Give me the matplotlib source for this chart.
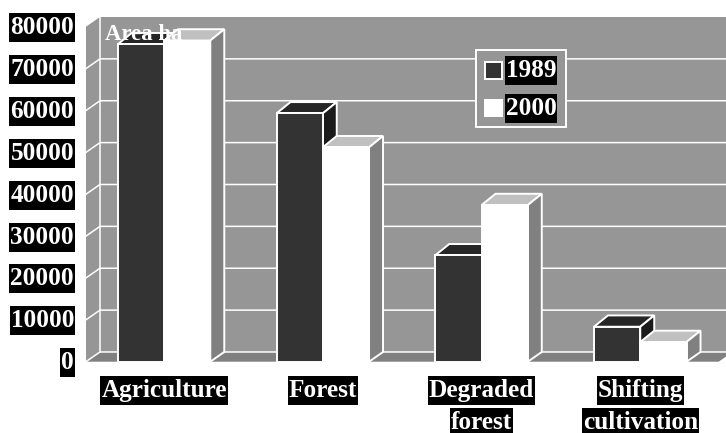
import matplotlib
matplotlib.use("Agg")
import matplotlib.pyplot as plt
from matplotlib.path import Path
from matplotlib.patches import Rectangle
from matplotlib.transforms import ScaledTranslation

# Land use areas in hectares
categories = [["Agriculture"], ["Forest"], ["Degraded", "forest"], ["Shifting", "cultivation"]]
years = ["1989", "2000"]
area_1989 = [75800, 59300, 25400, 8350]
area_2000 = [76700, 51200, 37400, 4700]
y_ticks = [0, 10000, 20000, 30000, 40000, 50000, 60000, 70000, 80000]

plt.rcParams["font.family"] = ["Liberation Serif", "DejaVu Serif"]
plt.rcParams["font.weight"] = "bold"

WALL = "#969696"
FLOOR = "#808080"
# front, top and side shades of each series
DARK = ("#333333", "#262626", "#1a1a1a")
LIGHT = ("#ffffff", "#c0c0c0", "#808080")

BAR_W = 0.2915
BAR_START = 0.2
DX = 0.088        # depth offset along x, categories
WALL_DY = 2320    # depth of the walls, hectares
BAR_DY = 2700     # depth of the bars, hectares
LW = 1.4
GRID_LW = 1.1
FS = 18.2


def label_box(x0, y0, w, h, scale):
    # black strip of fixed height behind a label, a pixel wider than the text
    cy = y0 + h / 2
    x = [x0 - 1, x0 + w + 1, x0 + w + 1, x0 - 1, x0 - 1]
    y = [cy - 14.5, cy - 14.5, cy + 14.5, cy + 14.5, cy - 14.5]
    return Path(list(zip(x, y)), closed=True)


BOX = dict(facecolor="black", edgecolor="none", boxstyle=label_box)

fig = plt.figure(figsize=(7.26, 4.33), dpi=100, facecolor="white")
ax = fig.add_axes([86 / 726, (433 - 361.7) / 433, 635 / 726, 335 / 433])
ax.set_xlim(0, 4)
ax.set_ylim(0, 80000)
for s in ax.spines.values():
    s.set_visible(False)
ax.patch.set_visible(False)
ax.set_xticks([])
ax.tick_params(axis="y", length=0, pad=8.6, labelsize=FS, labelcolor="white")
ax.set_yticks(y_ticks)
ax.set_yticklabels([str(v) for v in y_ticks])
# nudge the value labels up so the boxes centre on the tick height
nudge = ScaledTranslation(0, 1.5 / 100, fig.dpi_scale_trans)
for lab in ax.get_yticklabels():
    lab.set_bbox(BOX)
    lab.set_transform(lab.get_transform() + nudge)


def face(xs, ys, color, z):
    ax.fill(xs, ys, facecolor=color, edgecolor="white", linewidth=LW,
            joinstyle="miter", zorder=z, clip_on=False)


# back wall, left wall and floor
ymax = y_ticks[-1]
ax.fill([DX, 4 + DX, 4 + DX, DX], [WALL_DY, WALL_DY, ymax + WALL_DY, ymax + WALL_DY],
        facecolor=WALL, edgecolor="none", zorder=1, clip_on=False)
ax.fill([0, DX, DX, 0], [0, WALL_DY, ymax + WALL_DY, ymax],
        facecolor=WALL, edgecolor="none", zorder=1, clip_on=False)
ax.fill([0, 3.985, 3.985 + DX, DX], [0, 0, WALL_DY, WALL_DY],
        facecolor=FLOOR, edgecolor="none", zorder=1, clip_on=False)

# grid lines run along the back wall and down the left wall
for v in y_ticks[:-1]:
    ax.plot([0, DX, 4 + DX], [v, v + WALL_DY, v + WALL_DY], color="white", lw=GRID_LW,
            zorder=2, clip_on=False, solid_joinstyle="miter")
ax.plot([DX, DX], [WALL_DY, ymax + WALL_DY], color="white", lw=GRID_LW, zorder=2, clip_on=False)

# each group is drawn 1989 first so the 2000 bar sits in front of it
z = 3
for i in range(len(categories)):
    for j, (vals, shades) in enumerate(((area_1989, DARK), (area_2000, LIGHT))):
        x0 = i + BAR_START + j * BAR_W
        x1 = x0 + BAR_W
        v = vals[i]
        face([x0, x1, x1 + DX, x0 + DX], [v, v, v + BAR_DY, v + BAR_DY], shades[1], z)
        face([x1, x1 + DX, x1 + DX, x1], [0, WALL_DY, v + BAR_DY, v], shades[2], z)
        ax.bar(x0, v, BAR_W, align="edge", color=shades[0], edgecolor="white",
               linewidth=LW, zorder=z, clip_on=False)
        z += 1

# category labels, one black box per line
for i, lines in enumerate(categories):
    cx = i + BAR_START + BAR_W
    for k, line in enumerate(lines):
        ax.annotate(line, xy=(cx, 0), xytext=(0, -20.7 - k * 23), textcoords="offset points",
                    ha="center", va="center", fontsize=FS, color="white", bbox=BOX,
                    zorder=30, annotation_clip=False)

ax.annotate("Area ha", xy=(DX, ymax + WALL_DY), xytext=(3.6, -16.5), textcoords="offset points",
            fontsize=16.4, color="white", va="baseline", ha="left", zorder=31,
            annotation_clip=False)


def px(x, y):
    # figure fractions from pixels counted from the top left corner
    return x / 726, 1 - y / 433


# legend frame, swatches and boxed year labels
lx, ly = px(476, 127)
fig_tr = fig.transFigure
ax.add_patch(Rectangle((lx, ly), 90 / 726, 77 / 433, transform=fig_tr, facecolor=WALL,
                       edgecolor="white", linewidth=LW, zorder=40, clip_on=False))
for k, (year, shades) in enumerate(zip(years, (DARK, LIGHT))):
    sx, sy = px(484.5, 78.5 + k * 38)
    ax.add_patch(Rectangle((sx, sy), 17 / 726, 16 / 433, transform=fig_tr, facecolor=shades[0],
                           edgecolor="white", linewidth=LW, zorder=41, clip_on=False))
    tx, ty = px(531, 70.5 + k * 38)
    ax.text(tx, ty, year, transform=fig_tr, fontsize=FS, color="white", ha="center", va="center",
            bbox=BOX, zorder=42, clip_on=False)

fig.savefig("out.png", dpi=100)
